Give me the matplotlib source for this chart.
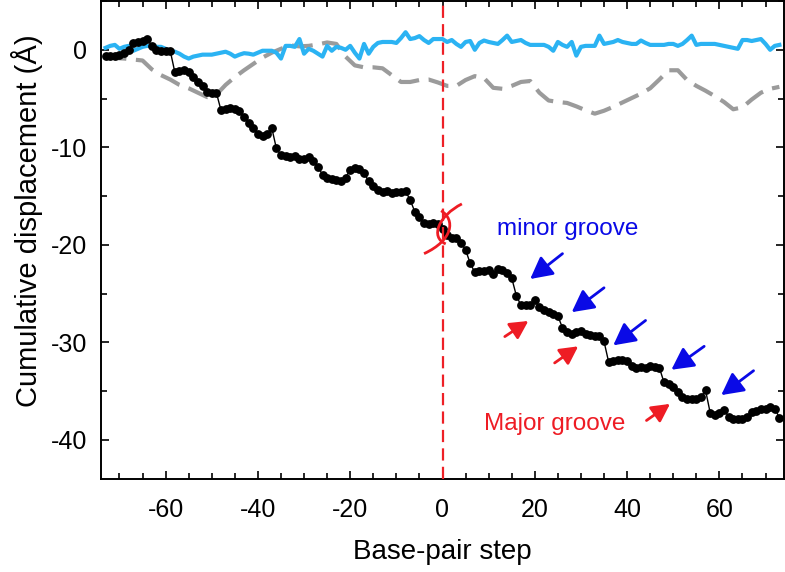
import matplotlib
matplotlib.use('Agg')
import matplotlib.pyplot as plt
from matplotlib.path import Path
from matplotlib.patches import PathPatch
from matplotlib.ticker import MultipleLocator

plt.rcParams['font.family'] = ['Liberation Sans', 'DejaVu Sans']
plt.rcParams['axes.unicode_minus'] = False

# ---------------- data ----------------
steps = list(range(-73, 74))

helical = [
    -0.6, -0.6, -0.6, -0.5, -0.3, 0.0, 0.7, 0.8, 0.9, 1.1,          # -73..-64
    0.4, 0.0, -0.1, -0.1, -0.1, -2.3, -2.2, -2.1, -2.3, -2.8,       # -63..-54
    -3.3, -3.7, -4.3, -4.4, -4.4, -6.2, -6.1, -6.0, -6.1, -6.3,     # -53..-44
    -6.9, -7.5, -8.0, -8.6, -8.8, -8.6, -8.0, -10.1, -10.8, -10.9,  # -43..-34
    -11.0, -10.9, -11.2, -11.2, -11.0, -11.4, -12.0, -12.8, -13.1, -13.2,  # -33..-24
    -13.3, -13.5, -13.1, -12.3, -12.1, -12.2, -12.6, -13.5, -14.0, -14.4,  # -23..-14
    -14.6, -14.5, -14.7, -14.6, -14.6, -14.5, -15.4, -16.6, -17.1, -17.8,  # -13..-4
    -17.9, -17.8, -17.9, -18.4, -19.0, -19.3, -19.3, -19.8, -20.5, -21.9,  # -3..6
    -22.8, -22.7, -22.7, -22.6, -23.0, -22.5, -22.6, -22.9, -23.4, -25.2,  # 7..16
    -26.2, -26.2, -26.2, -25.7, -26.4, -26.7, -26.9, -27.1, -27.3, -28.5,  # 17..26
    -28.9, -29.1, -28.9, -28.8, -29.1, -29.2, -29.3, -29.3, -29.9, -32.0,  # 27..36
    -31.9, -31.8, -31.8, -31.9, -32.4, -32.6, -32.5, -32.6, -32.4, -32.5,  # 37..46
    -32.6, -34.1, -34.3, -34.6, -35.1, -35.6, -35.8, -35.8, -35.8, -35.6,  # 47..56
    -34.9, -37.2, -37.4, -37.2, -36.9, -37.6, -37.8, -37.8, -37.8, -37.6,  # 57..66
    -37.1, -37.0, -36.8, -36.8, -36.6, -36.8, -37.7,                      # 67..73
]

lateral = [
    0.2, 0.4, 0.5, 0.1, 0.3, 0.4, -0.1, 0.1, 0.3, 0.4,             # -73..-64
    0.4, 0.3, 0.3, 0.1, -0.1, -0.2, -0.4, -0.7, -0.9, -0.7,        # -63..-54
    -0.6, -0.5, -0.5, -0.5, -0.4, -0.3, -0.2, -0.4, -0.7, -0.5,    # -53..-44
    -0.35, -0.4, -0.5, -0.3, -0.1, -0.1, -0.1, -0.3, -0.9, 0.4,    # -43..-34
    0.4, 0.3, 1.1, -0.4, 0.1, -0.1, -0.4, -0.7, 0.4, -0.1,         # -33..-24
    0.3, 0.2, 0.0, 0.4, -0.3, -0.9, 0.6, -0.4, 0.3, 0.7,           # -23..-14
    0.8, 0.8, 0.8, 0.7, 1.2, 1.8, 1.1, 1.2, 1.4, 1.0,              # -13..-4
    0.7, 1.1, 1.1, 1.1, 0.8, 1.0, 0.6, 0.3, 0.8, 0.9,              # -3..6
    0.0, 0.7, 0.95, 0.8, 0.7, 0.6, 1.0, 1.45, 0.8, 0.9,            # 7..16
    1.0, 0.7, 0.5, 0.5, 0.5, 0.5, 0.3, -0.1, 0.8, 0.5,             # 17..26
    0.3, 0.8, -0.6, 0.3, 0.4, 0.4, 0.4, 1.45, 0.6, 0.7,            # 27..36
    0.8, 1.0, 0.8, 0.7, 0.6, 0.6, 0.95, 0.7, 0.5, 0.5,             # 37..46
    0.5, 0.5, 0.6, 0.6, 0.4, 0.6, 1.0, 1.45, 0.5, 0.6,             # 47..56
    0.6, 0.6, 0.6, 0.5, 0.4, 0.3, 0.2, 0.1, 1.0, 1.0,              # 57..66
    0.9, 1.0, 1.1, 0.6, 0.0, 0.4, 0.5,                             # 67..73
]

gray_steps = list(range(-73, 74, 2))
vertical = [
    -0.75, -0.85, -0.9, -1.0, -1.1, -2.0, -2.6, -3.05, -3.6, -3.95,   # -73..-55
    -4.4, -4.85, -4.6, -3.6, -2.8, -2.1, -1.45, -0.8, -0.3, 0.1,      # -53..-35
    0.45, 0.35, 0.4, 0.55, 0.75, 0.6, -0.7, -1.6, -1.8, -1.8,         # -33..-15
    -1.9, -2.6, -3.3, -3.3, -3.1, -3.05, -3.35, -3.7, -3.7, -3.1,     # -13..5
    -2.7, -2.9, -3.9, -4.0, -3.7, -3.3, -3.2, -4.4, -5.2, -5.35,      # 7..25
    -5.45, -5.8, -6.2, -6.55, -6.25, -5.85, -5.4, -4.95, -4.5, -3.95, # 27..45
    -3.05, -2.1, -2.1, -3.1, -3.7, -4.2, -4.75, -5.35, -6.1, -5.9,    # 47..65
    -5.1, -4.4, -4.0, -3.8,                                            # 67..73
]

x_ticks = [-60, -40, -20, 0, 20, 40, 60]
y_ticks = [0, -10, -20, -30, -40]

# annotation arrows (tail, head) in data units
minor_arrows = [((26.0, -20.9), (19.0, -23.5)),
                ((35.0, -24.4), (28.0, -26.9)),
                ((44.0, -27.75), (37.0, -30.3)),
                ((56.7, -30.4), (49.6, -32.8)),
                ((67.4, -32.9), (60.4, -35.4))]
major_arrows = [((13.5, -29.4), (18.6, -27.8)),
                ((24.3, -32.1), (29.4, -30.4)),
                ((44.2, -38.0), (49.3, -36.3))]

# ---------------- figure ----------------
fig = plt.figure(figsize=(7.85, 5.72), dpi=100)
ax = fig.add_axes([101 / 785, 93 / 572, 683 / 785, 478 / 572])

ax.plot(gray_steps, vertical, color='#9b9b9b', lw=3.0, dashes=[5, 2.3], zorder=2)
ax.plot(steps, lateral, color='#2bb3f3', lw=3.0, zorder=3)
ax.plot(steps, helical, color='black', lw=1.0, marker='o', ms=5.3, zorder=4)

ax.axvline(0, color='#ee2026', lw=1.6, dashes=[5.5, 2.8], zorder=5)

# red twisted symbol at origin
verts1 = [(4.2, -15.8), (-0.8, -17.0), (-2.8, -19.2), (0.7, -19.9)]
verts2 = [(-0.3, -16.5), (2.8, -17.4), (2.4, -19.5), (-4.0, -20.9)]
codes = [Path.MOVETO, Path.CURVE4, Path.CURVE4, Path.CURVE4]
for v in (verts1, verts2):
    ax.add_patch(PathPatch(Path(v, codes), fill=False, edgecolor='#ee1c24', lw=2.0, zorder=6))

for tail, head in minor_arrows:
    ax.annotate('', xy=head, xytext=tail,
                arrowprops=dict(arrowstyle='-|>,head_length=0.95,head_width=0.5',
                                mutation_scale=14, lw=2.0, color='#0a0ae6',
                                shrinkA=0, shrinkB=0), zorder=7)
for tail, head in major_arrows:
    ax.annotate('', xy=head, xytext=tail,
                arrowprops=dict(arrowstyle='-|>,head_length=0.95,head_width=0.5',
                                mutation_scale=11.5, lw=2.0, color='#ee1c24',
                                shrinkA=0, shrinkB=0), zorder=7)

ax.text(27.2, -18.4, 'minor groove', color='#0a0ae6', fontsize=17.5,
        ha='center', va='center')
ax.text(24.4, -38.4, 'Major groove', color='#ee1c24', fontsize=17.5,
        ha='center', va='center')

ax.set_xlim(-74, 74)
ax.set_ylim(-44, 5)
ax.set_xticks(x_ticks)
ax.set_yticks(y_ticks)
ax.xaxis.set_minor_locator(MultipleLocator(5))
ax.yaxis.set_minor_locator(MultipleLocator(5))
ax.tick_params(which='both', direction='in', top=True, right=True,
               labelsize=18, width=1.2)
ax.tick_params(which='major', length=6)
ax.tick_params(which='minor', length=4)
ax.tick_params(axis='x', which='major', pad=14)
ax.tick_params(axis='y', which='major', pad=10)
for s in ax.spines.values():
    s.set_linewidth(1.4)

ax.set_xlabel('Base-pair step', fontsize=20, labelpad=12)
ax.set_ylabel('Cumulative displacement (Å)', fontsize=21)
ax.yaxis.set_label_coords(-0.085, 0.54)

fig.savefig('out.png', dpi=100)
